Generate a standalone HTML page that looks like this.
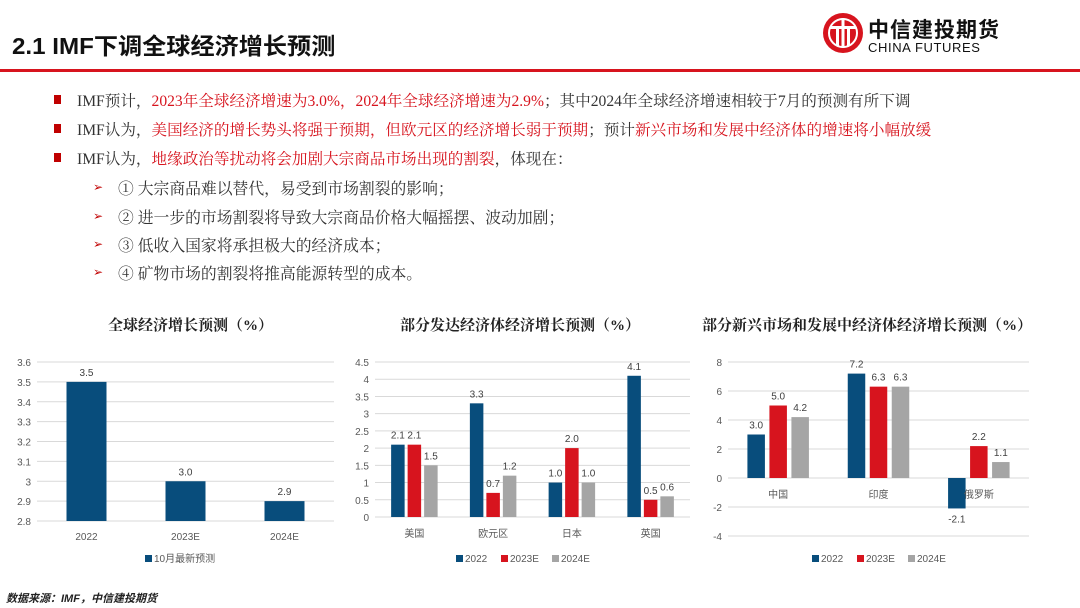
<!DOCTYPE html>
<html><head><meta charset="utf-8">
<style>
body{margin:0;width:1080px;height:608px;background:#fff;position:relative;overflow:hidden;font-family:"Liberation Sans","Noto Sans CJK SC",sans-serif}
.abs{position:absolute;white-space:nowrap}
.serif{font-family:"Liberation Serif","Noto Serif CJK SC",serif}
.red{color:#d7141e}
.bl{position:absolute;left:77px;font-size:15.6px;color:#333}
.sq{position:absolute;left:54px;width:7px;height:9px;background:#c00000}
.arr{position:absolute;left:93px;color:#c00000;font-size:12px}
.sub{position:absolute;left:118px;font-size:15.8px;color:#333}
</style></head><body>
<div class="abs" style="left:12px;top:27px;font-size:23px;font-weight:bold;color:#111;font-family:'Liberation Sans','Noto Sans CJK SC',sans-serif;transform:scaleX(1.05);transform-origin:left">2.1 IMF下调全球经济增长预测</div>
<div>
<svg class="abs" style="left:822px;top:12px" width="44" height="44"><circle cx="21" cy="21" r="20" fill="#d7141e"/><circle cx="21" cy="21" r="14" fill="none" stroke="#fff" stroke-width="2"/><rect x="8" y="14" width="26" height="3" fill="#fff"/><rect x="14" y="14" width="3" height="20" fill="#fff"/><rect x="25" y="14" width="3" height="20" fill="#fff"/><rect x="19.5" y="6" width="3" height="30" fill="#fff"/></svg>
<div class="abs" style="left:868px;top:14px;font-size:21px;font-weight:bold;color:#111;letter-spacing:1px">中信建投期货</div>
<div class="abs" style="left:868px;top:40px;font-size:13px;color:#111;letter-spacing:0.6px">CHINA FUTURES</div>
</div>
<div class="abs" style="left:0;top:69px;width:1080px;height:3px;background:#d7141e"></div>

<div>
<div class="sq" style="top:95px"></div><div class="bl serif" style="top:89px">IMF预计，<span class="red">2023年全球经济增速为3.0%，2024年全球经济增速为2.9%</span>；其中2024年全球经济增速相较于7月的预测有所下调</div>
<div class="sq" style="top:124px"></div><div class="bl serif" style="top:118px">IMF认为，<span class="red">美国经济的增长势头将强于预期，但欧元区的经济增长弱于预期</span>；预计<span class="red">新兴市场和发展中经济体的增速将小幅放缓</span></div>
<div class="sq" style="top:153px"></div><div class="bl serif" style="top:147px">IMF认为，<span class="red">地缘政治等扰动将会加剧大宗商品市场出现的割裂</span>，体现在：</div>
<div class="arr" style="top:180px">➢</div><div class="sub serif" style="top:176px">① 大宗商品难以替代，易受到市场割裂的影响；</div>
<div class="arr" style="top:209px">➢</div><div class="sub serif" style="top:205px">② 进一步的市场割裂将导致大宗商品价格大幅摇摆、波动加剧；</div>
<div class="arr" style="top:237px">➢</div><div class="sub serif" style="top:233px">③ 低收入国家将承担极大的经济成本；</div>
<div class="arr" style="top:265px">➢</div><div class="sub serif" style="top:261px">④ 矿物市场的割裂将推高能源转型的成本。</div>
</div>

<div class="abs serif" style="left:108px;top:314px;font-size:15px;font-weight:bold;color:#222">全球经济增长预测（%）</div>
<div class="abs serif" style="left:400px;top:314px;font-size:15px;font-weight:bold;color:#222">部分发达经济体经济增长预测（%）</div>
<div class="abs serif" style="left:702px;top:314px;font-size:15px;font-weight:bold;color:#222">部分新兴市场和发展中经济体经济增长预测（%）</div>

<svg id="charts" class="abs" style="left:0;top:0" width="1080" height="608"></svg>

<div class="abs" style="left:6px;top:590px;font-size:11px;font-style:italic;font-weight:bold;color:#222">数据来源：IMF，中信建投期货</div>

<script>
const c1Cats=["2022","2023E","2024E"];
const c1Vals=[3.5,3.0,2.9];
const c1Ticks=[2.8,2.9,3,3.1,3.2,3.3,3.4,3.5,3.6];
const c2Cats=["美国","欧元区","日本","英国"];
const c2S2022=[2.1,3.3,1.0,4.1];
const c2S2023=[2.1,0.7,2.0,0.5];
const c2S2024=[1.5,1.2,1.0,0.6];
const c2Ticks=[0,0.5,1,1.5,2,2.5,3,3.5,4,4.5];
const c3Cats=["中国","印度","俄罗斯"];
const c3S2022=[3.0,7.2,-2.1];
const c3S2023=[5.0,6.3,2.2];
const c3S2024=[4.2,6.3,1.1];
const c3Ticks=[-4,-2,0,2,4,6,8];
const seriesNames=["2022","2023E","2024E"];
const colors=["#084d7c","#d7141e","#a5a5a5"];

const svg=document.getElementById('charts');
const NS="http://www.w3.org/2000/svg";
function mk(tag,attrs,parent){const e=document.createElementNS(NS,tag);for(const k in attrs)e.setAttribute(k,attrs[k]);(parent||svg).appendChild(e);return e;}
function txt(x,y,s,size,anchor,fill,g){const t=mk('text',{x:x,y:y,'font-size':size,'text-anchor':anchor,fill:fill,'font-family':'Liberation Sans, Noto Sans CJK SC, sans-serif'},g);t.textContent=s;return t;}

function chart(cfg){
  const g=mk('g',{});
  
  
  const y=v=>cfg.y0+(cfg.max-v)/(cfg.max-cfg.min)*(cfg.y1-cfg.y0);
  cfg.ticks.forEach(t=>{
    const gl=mk('line',{x1:cfg.x0,x2:cfg.x1,y1:y(t),y2:y(t),stroke:'#d9d9d9','stroke-width':1},g);
    
    
    const tl=txt(cfg.x0-6,y(t)+4,String(t),10,'end','#595959',g);
    
    
  });
  const band=(cfg.x1-cfg.x0)/cfg.cats.length;
  const ns=cfg.series.length;
  cfg.cats.forEach((c,i)=>{
    const cx=cfg.x0+band*(i+0.5);
    cfg.series.forEach((s,j)=>{
      const v=s[i];
      const bx=cx-(ns*cfg.bw+(ns-1)*cfg.gap)/2+j*(cfg.bw+cfg.gap);
      const top=Math.min(y(v),y(cfg.base)),h=Math.abs(y(v)-y(cfg.base));
      const r=mk('rect',{x:bx,y:top,width:cfg.bw,height:h,fill:cfg.colors[j]},g);
      
      
      const ly=v>=0?y(v)-6:y(v)+14;
      const lb=txt(bx+cfg.bw/2,ly,v.toFixed(1),10,'middle','#404040',g);
      
      
    });
    const xl=txt(cx,cfg.catY,c,10,'middle','#595959',g);
    
    
  });
  let lx=cfg.legX;
  cfg.legNames.forEach((n,j)=>{
    const sq=mk('rect',{x:lx,y:555,width:7,height:7,fill:cfg.colors[j]},g);
    
    
    const lt=txt(lx+9,562,n,10,'start','#595959',g);
    
    
    lx+=9+n.length*6+(n.length>6?40:12);
  });
}
chart({name:'global-growth-chart',x0:37,x1:334,y0:362,y1:521,min:2.8,max:3.6,base:2.8,ticks:c1Ticks,cats:c1Cats,series:[c1Vals],bw:40,gap:0,colors:[colors[0]],catY:540,legX:145,legNames:["10月最新预测"]});
chart({name:'advanced-economies-chart',x0:375,x1:690,y0:362,y1:517,min:0,max:4.5,base:0,ticks:c2Ticks,cats:c2Cats,series:[c2S2022,c2S2023,c2S2024],bw:13.5,gap:3,colors:colors,catY:537,legX:456,legNames:seriesNames});
chart({name:'emerging-economies-chart',x0:728,x1:1029,y0:362,y1:536,min:-4,max:8,base:0,ticks:c3Ticks,cats:c3Cats,series:[c3S2022,c3S2023,c3S2024],bw:17.5,gap:4.5,colors:colors,catY:498,legX:812,legNames:seriesNames});
</script>
</body></html>
